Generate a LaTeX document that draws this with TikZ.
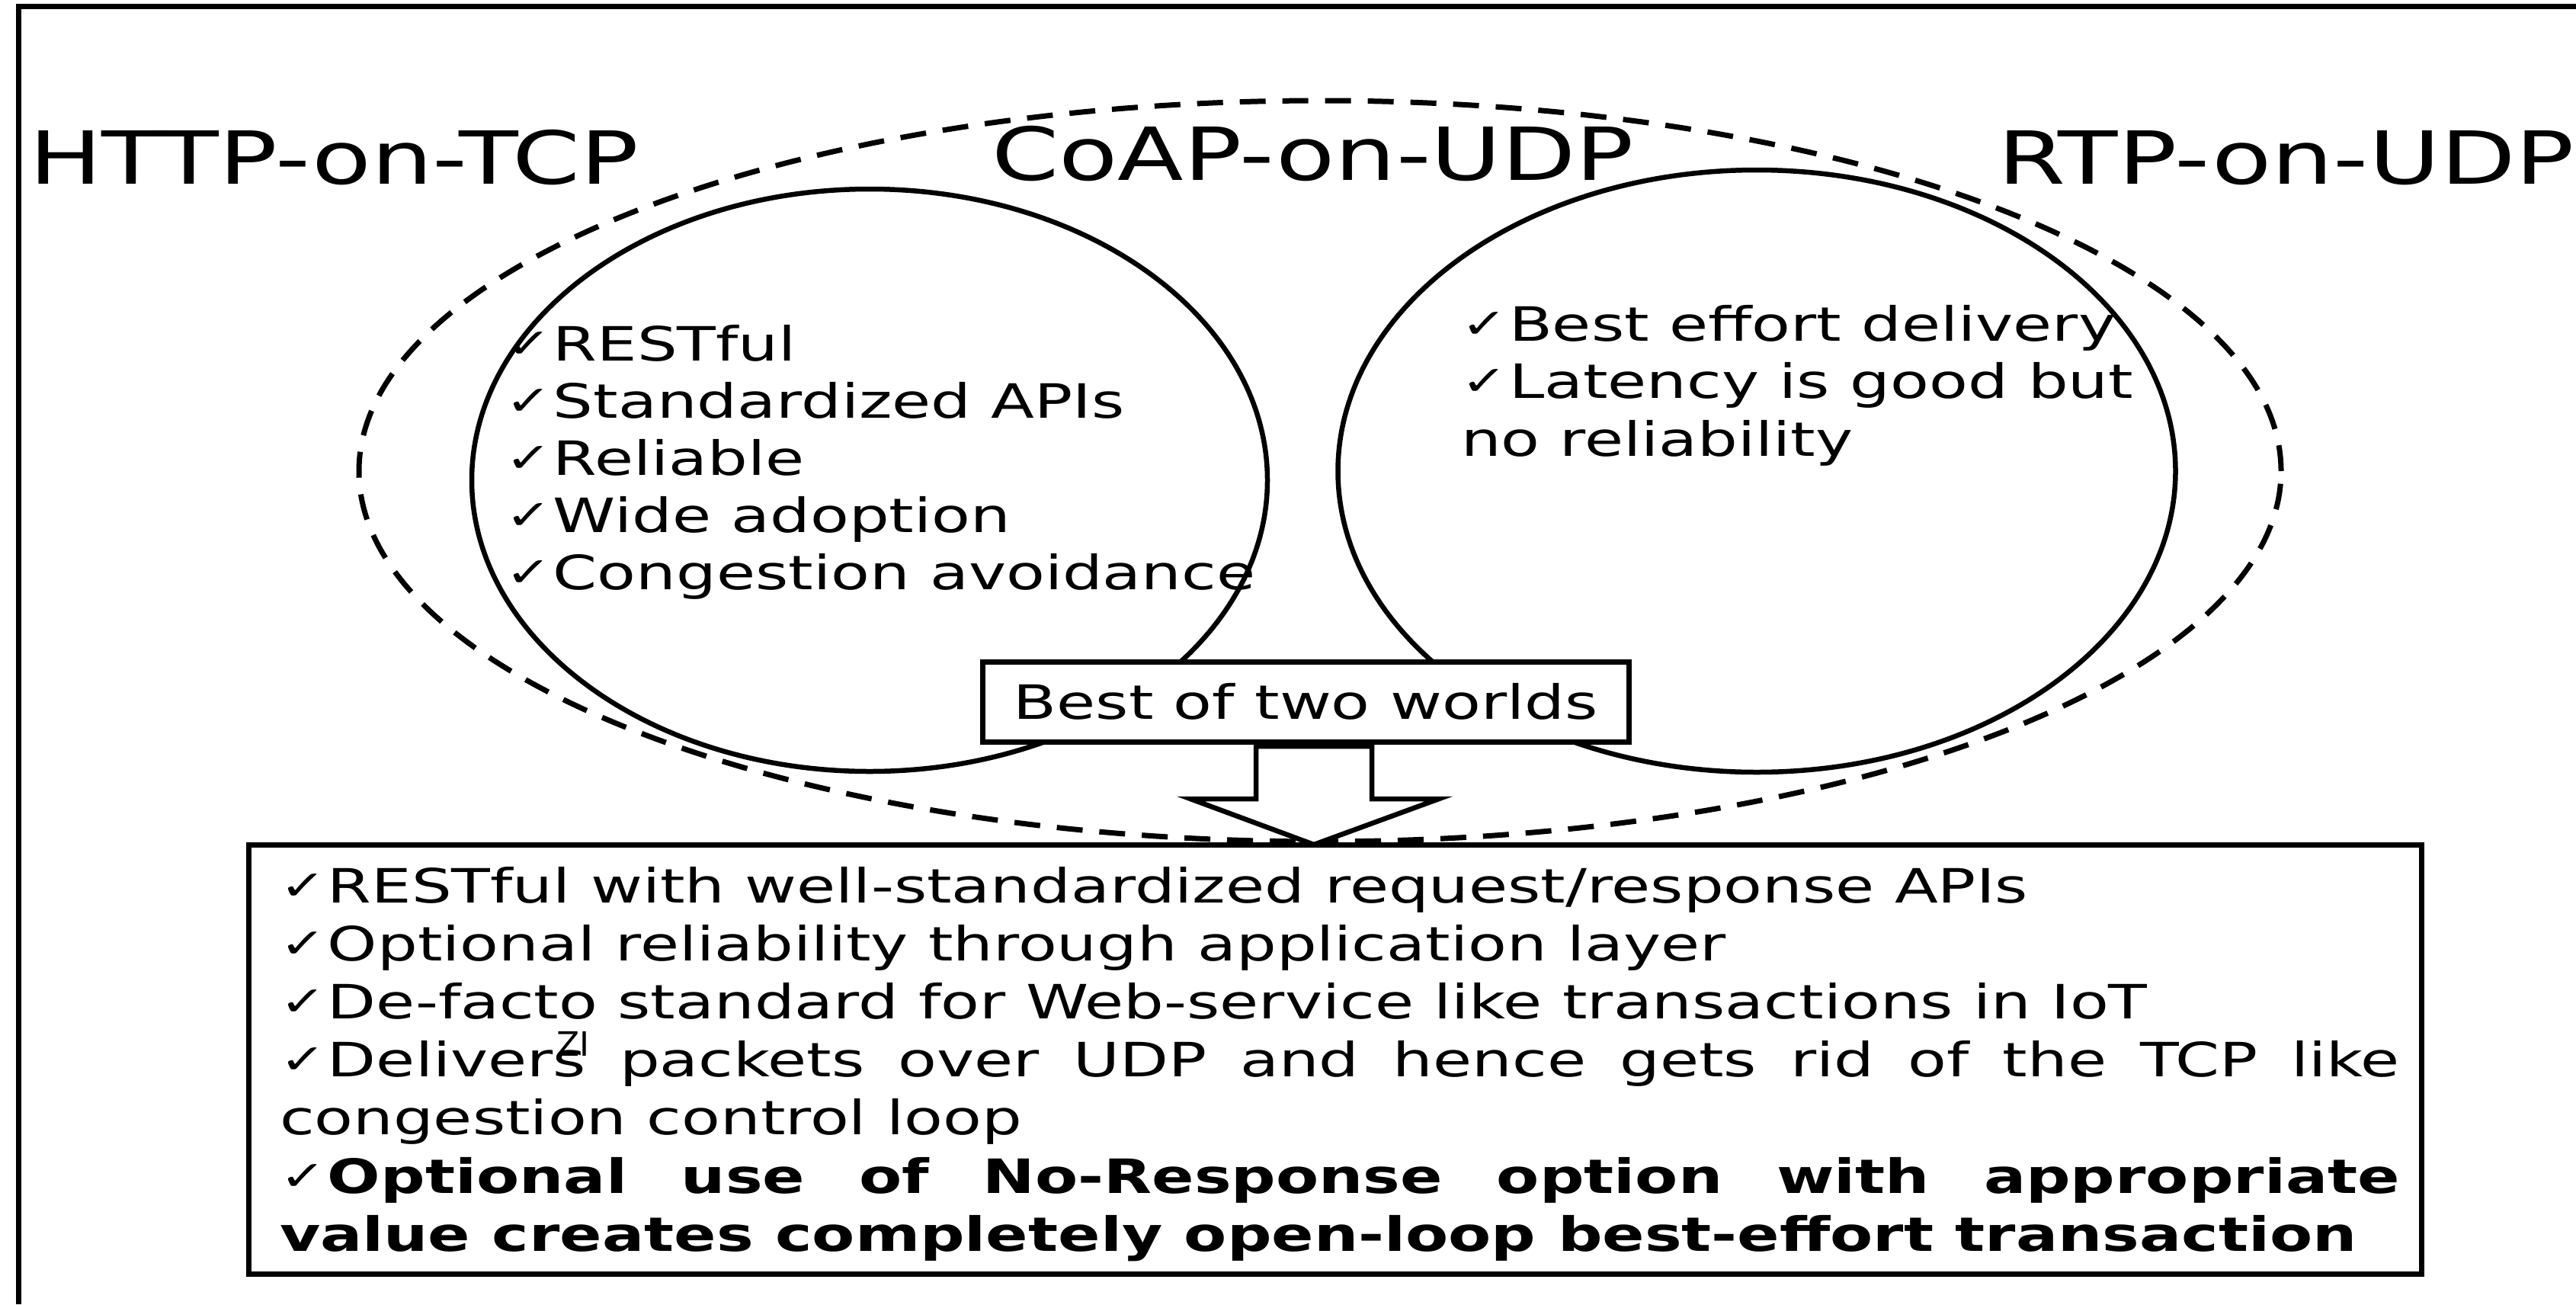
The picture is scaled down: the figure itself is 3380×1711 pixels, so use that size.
\documentclass[tikz,border=0pt]{standalone}
\usepackage{fontspec}
\setmainfont{DejaVu Sans}[BoldFeatures={FakeStretch=0.985}]
\usepackage{graphicx}
\usetikzlibrary{shapes.geometric,calc}

% check mark used in front of every item
\newcommand\ck{\makebox[47pt][l]{\fontsize{54}{54}\selectfont\raisebox{4pt}{✓}}}
% the lettering is set a little wider than the font's natural width
\newcommand\wide[1]{\scalebox{1.34}[1]{#1}}

\begin{document}
\begin{tikzpicture}[x=1pt,y=-1pt,
  every node/.style={inner sep=0pt, outer sep=0pt},
  solidring/.style={ellipse, draw, line width=6.5pt},
  dashring/.style={ellipse, draw, line width=7pt, dash pattern=on 34pt off 22pt},
  frameline/.style={line width=7pt},
  boxed/.style={rectangle, draw, fill=white, line width=7pt},
  blockarrow/.style={draw, fill=white, line width=6.5pt, line join=miter},
  toplabel/.style={anchor=base west, font=\fontsize{96}{110}\selectfont},
  body/.style={anchor=base west, font=\fontsize{62}{75}\selectfont}]

\useasboundingbox (0,0) rectangle (3380,1711);

% frame (top and left edges)
\draw[frameline] (24,1711) -- (24,8) -- (3380,8);

% the three protocol worlds
\node[dashring, minimum width=2522pt, minimum height=972pt] (coap) at (1732,618) {};
\node[solidring, minimum width=1044pt, minimum height=764pt] (http) at (1141,630) {};
\node[solidring, minimum width=1099pt, minimum height=790pt] (rtp) at (2305,618) {};

% protocol names
\node[toplabel] (httpT) at (38,241) {\resizebox{800pt}{\height}{HTTP-on-TCP}};
\node[toplabel] (coapT) at (1301,236) {\resizebox{843pt}{\height}{CoAP-on-UDP}};
\node[toplabel] (rtpT) at (2621,241) {\resizebox{757pt}{\height}{RTP-on-UDP}};

% HTTP properties
\node[body] (httpL) at (663,473) {\wide{\parbox[t]{900pt}{\raggedright
  \ck RESTful\\
  \ck Standardized APIs\\
  \ck Reliable\\
  \ck Wide adoption\\
  \ck Congestion avoidance}}};

% RTP properties
\node[body] (rtpL) at (1917,447) {\wide{\parbox[t]{900pt}{\raggedright\fontsize{62}{75.5}\selectfont
  \ck Best effort delivery\\
  \ck Latency is good but\\
  no reliability}}};

% merge label
\node[boxed, minimum width=848pt, minimum height=105pt, font=\fontsize{62}{75}\selectfont]
  (best) at (1713,920.5) {\wide{Best of two worlds}};

% CoAP summary box
\node[boxed, minimum width=2851pt, minimum height=563pt] (sum) at (1751.5,1389.5) {};
\node[body, font=\fontsize{62}{76.2}\selectfont] (sumT) at (367,1184) {\wide{\parbox[t]{2076pt}{%
  \ck RESTful with well-standardized request/response APIs\par
  \ck Optional reliability through application layer\par
  \ck De-facto standard for Web-service like transactions in IoT\par
  \ck Delivers packets over UDP and hence gets rid of the TCP like\linebreak congestion control loop\par
  \ck\textbf{Optional use of No-Response option with appropriate\linebreak value creates completely open-loop best-effort transaction}}}};

\node[anchor=base west, font=\fontsize{44}{44}\selectfont] (zi) at (730,1385) {ZI};

% block arrow from the merge label down to the summary
\coordinate (aTop) at ($(best.south)+(11,6)$);
\draw[blockarrow] ($(aTop)+(-76,0)$) -- ++(0,69) -- ++(-86,0) -- (aTop |- sum.north)
  -- ($(aTop)+(164,69)$) -- ++(-88,0) -- ++(0,-69) -- cycle;

\end{tikzpicture}
\end{document}
